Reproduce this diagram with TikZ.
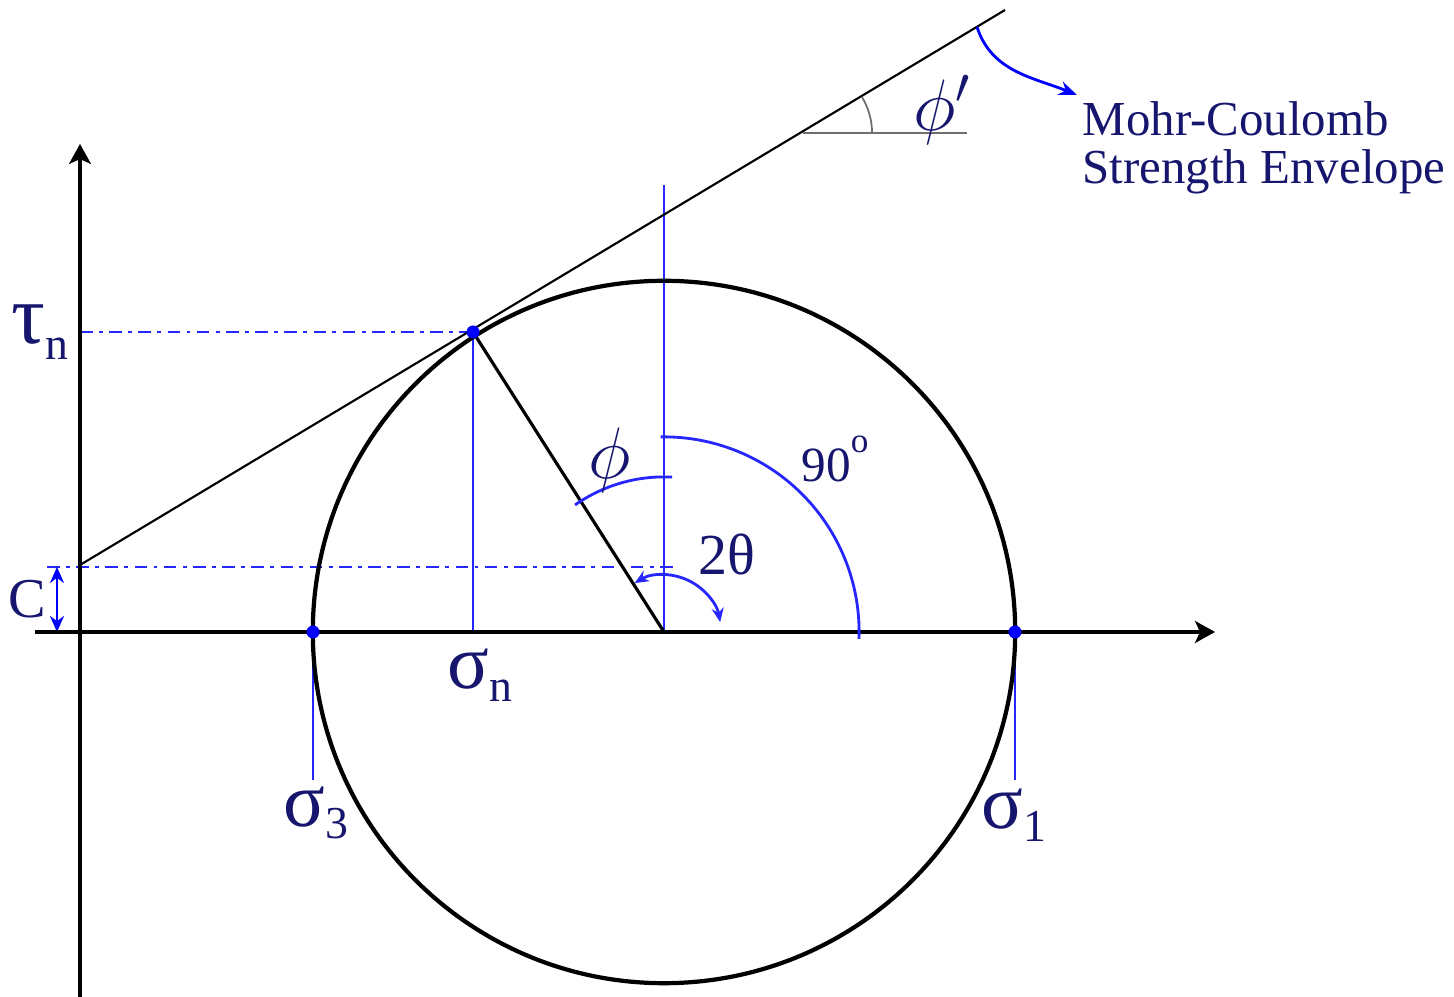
\documentclass[tikz,border=0pt]{standalone}
\usepackage{fontspec}
\setmainfont{Liberation Serif}
\usetikzlibrary{arrows.meta}
\definecolor{navy}{RGB}{22,22,110}
\definecolor{gline}{RGB}{110,110,110}
\begin{document}
\begin{tikzpicture}[x=0.01cm,y=0.01cm,
  lab/.style={text=navy, inner sep=0pt},
  axisline/.style={line width=0.9pt, draw=black},
  blueline/.style={line width=0.6pt, draw=blue!85!white},
  dashdot/.style={line width=0.8pt, draw=blue!85!white, dash pattern=on 3.6pt off 1.8pt on 1.1pt off 1.8pt},
  bdot/.style={fill=blue, draw=none},
  axtip/.style={-{Stealth[length=0.2cm,width=0.22cm,inset=0.05cm]}}]
\useasboundingbox (0,0) rectangle (1454,997);
% key points
\coordinate (yb) at (80,0);
\coordinate (yt) at (80,853);
\coordinate (xl) at (35,365);
\coordinate (xr) at (1215,365);
\coordinate (M) at (664,365);
\coordinate (S3) at (313,365);
\coordinate (S1) at (1015,365);
\coordinate (T) at (473,665);
\coordinate (Tn) at (473,365);
\coordinate (A) at (80,432);
\coordinate (B) at (1005,987);
\coordinate (Mt) at (664,812);
\coordinate (Tl) at (80,665);
\coordinate (Cl) at (47,430);
\coordinate (Cr) at (677,430);
\coordinate (Ca) at (57,430);
\coordinate (Cb) at (57,365);
\coordinate (S3b) at (313,217);
\coordinate (S1b) at (1015,217);
\coordinate (P) at (803,864);
\coordinate (Ph) at (967,864);
\coordinate (E) at (977,970);
\coordinate (Eh) at (1077,902);
% blue guide lines
\draw[blueline] (M) -- (Mt);
\draw[blueline] (T) -- (Tn);
\draw[blueline] (S3) -- (S3b);
\draw[blueline] (S1) -- (S1b);
\draw[dashdot] (Tl) -- (T);
\draw[dashdot] (Cl) -- (Cr);
\draw[blue, line width=0.8pt, {Stealth[length=0.16cm,width=0.14cm]}-{Stealth[length=0.16cm,width=0.14cm]}] (Ca) -- (Cb);
% axes
\draw[axisline, axtip] (yb) -- (yt);
\draw[axisline, axtip] (xl) -- (xr);
% circle and envelope
\draw[line width=1.2pt] (M) circle[radius=3.51cm];
\draw[line width=0.6pt] (A) -- (B);
\draw[line width=0.9pt] (T) -- (M);
% angle arcs
\draw[blueline, line width=0.8pt] (M) ++(91:1.95cm) arc[start angle=91, end angle=-2, radius=1.95cm];
\draw[blueline, line width=0.8pt] (M) ++(87:1.55cm) arc[start angle=87, end angle=125, radius=1.55cm];
\draw[blueline, line width=0.8pt, {Stealth[length=0.14cm,width=0.12cm]}-{Stealth[length=0.14cm,width=0.12cm]}] (M) ++(121:0.57cm) arc[start angle=121, end angle=10, radius=0.57cm];
\draw[gline, line width=0.5pt] (P) -- (Ph);
\draw[gline, line width=0.5pt] (P) ++(0:0.69cm) arc[start angle=0, end angle=31, radius=0.69cm];
% pointer to envelope
\draw[blue, line width=0.8pt, -{Stealth[length=0.18cm,width=0.14cm]}] (E) to[out=-72, in=158] (Eh);
% dots
\fill[bdot] (T) circle[radius=0.065cm];
\fill[bdot] (S3) circle[radius=0.065cm];
\fill[bdot] (S1) circle[radius=0.065cm];
% labels
\node[lab] (taun) at (40,665) {\fontsize{24pt}{24pt}\selectfont τ\raisebox{-0.4ex}{\fontsize{13pt}{13pt}\selectfont n}};
\node[lab] (clab) at (27,398) {\fontsize{16pt}{16pt}\selectfont C};
\node[lab] (sign) at (480,322) {\fontsize{22pt}{22pt}\selectfont σ\raisebox{-0.35ex}{\fontsize{13pt}{13pt}\selectfont n}};
\node[lab] (sig3) at (316,184) {\fontsize{22pt}{22pt}\selectfont σ\raisebox{-0.35ex}{\fontsize{13pt}{13pt}\selectfont 3}};
\node[lab] (sig1) at (1014,182) {\fontsize{22pt}{22pt}\selectfont σ\raisebox{-0.35ex}{\fontsize{13pt}{13pt}\selectfont 1}};
\node[lab] (phi) at (610,537) {\fontsize{21pt}{21pt}\selectfont $\phi$};
\node[lab] (phip) at (942,887) {\fontsize{21pt}{21pt}\selectfont $\phi'$};
\node[lab] (ninety) at (835,538) {\fontsize{14pt}{14pt}\selectfont 90\raisebox{1.3ex}{\fontsize{10pt}{10pt}\selectfont o}};
\node[lab] (twoth) at (727,442) {\fontsize{16.5pt}{16.5pt}\selectfont 2θ};
\node[lab, anchor=north west, align=left, font=\fontsize{13.9pt}{13.7pt}\selectfont] (mc) at (1082,896) {Mohr-Coulomb\\Strength Envelope};
\end{tikzpicture}
\end{document}
